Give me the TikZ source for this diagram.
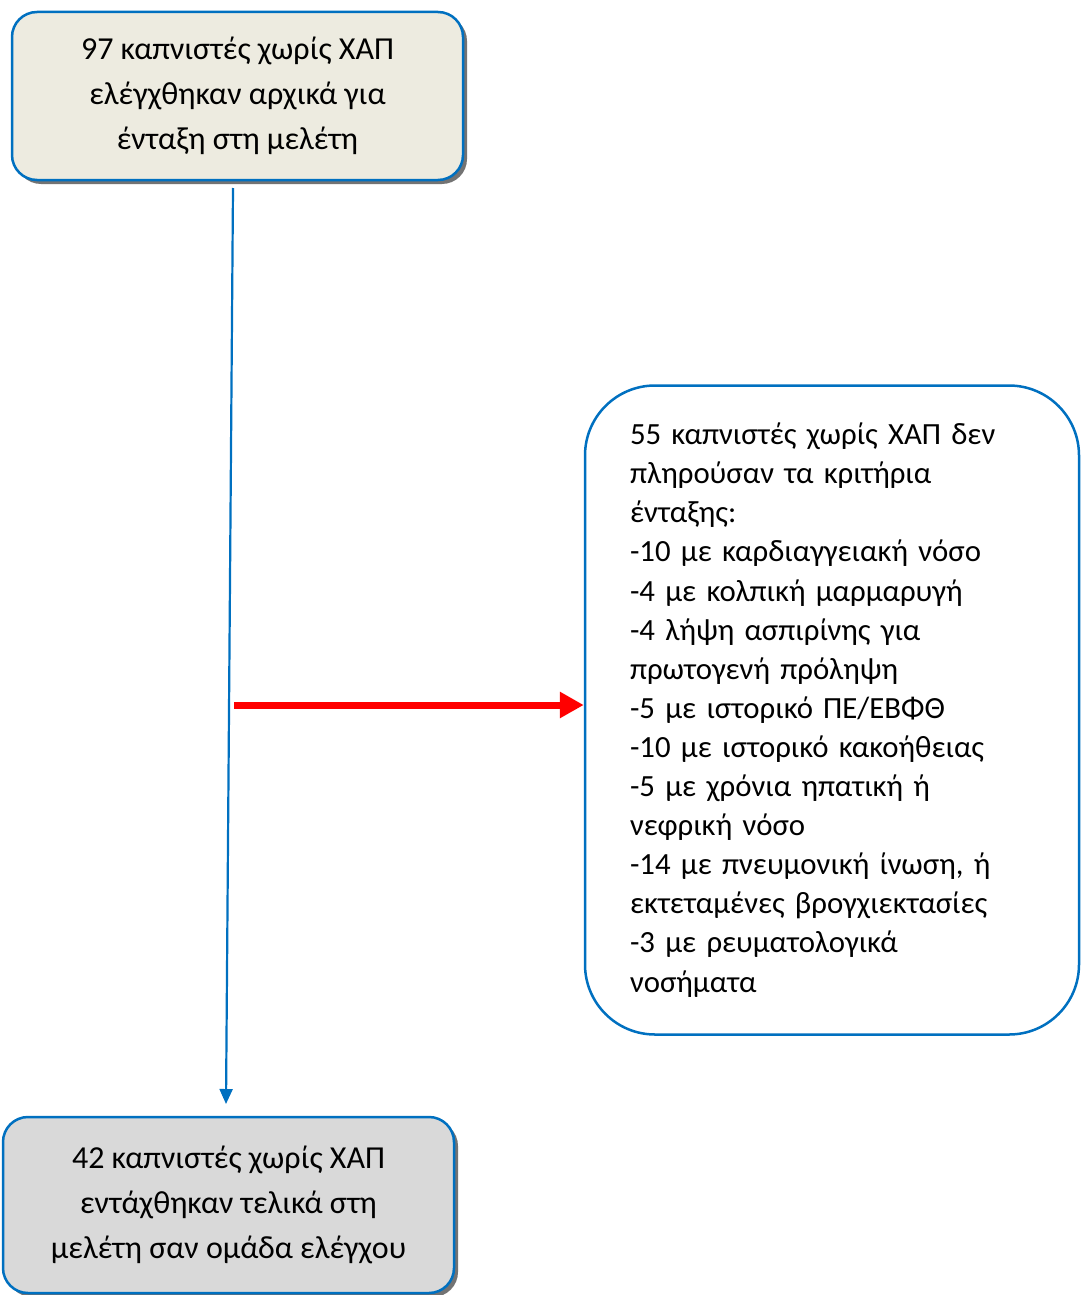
\documentclass[tikz,border=0pt]{standalone}
\usepackage{fontspec}
\setmainfont{Carlito}
\usetikzlibrary{arrows.meta}
\definecolor{bblue}{RGB}{0,112,192}
\definecolor{topfill}{RGB}{237,235,224}
\definecolor{botfill}{RGB}{217,217,217}
\begin{document}
\begin{tikzpicture}[x=1pt,y=-1pt,
  box/.style={draw=bblue, line width=2.5pt, rounded corners=25pt, align=center, inner sep=0pt},
  shadowed/.style={preaction={fill=black!55, draw=none, transform canvas={shift={(4pt,-4pt)}}}},
  bigtext/.style={font=\fontsize{32}{45}\selectfont}]
\useasboundingbox (0,0) rectangle (1080,1295);
\node[box, shadowed, fill=topfill, minimum width=451pt, minimum height=168pt, bigtext] (top) at (237.5,96)
  {97 καπνιστές χωρίς ΧΑΠ\\ελέγχθηκαν αρχικά για\\ένταξη στη μελέτη};
\node[box, shadowed, fill=botfill, minimum width=451pt, minimum height=176pt, bigtext] (bot) at (228.5,1205)
  {42 καπνιστές χωρίς ΧΑΠ\\εντάχθηκαν τελικά στη\\μελέτη σαν ομάδα ελέγχου};
\node[box, fill=white, rounded corners=70pt, minimum width=494pt, minimum height=649pt, text width=404pt, align=left,
  font=\fontsize{30.8}{39.1}\selectfont] (excl) at (832,710)
  {55 καπνιστές χωρίς ΧΑΠ δεν\\πληρούσαν τα κριτήρια\\ένταξης:\\-10 με καρδιαγγειακή νόσο\\-4 με κολπική μαρμαρυγή\\-4 λήψη ασπιρίνης για\\πρωτογενή πρόληψη\\-5 με ιστορικό ΠΕ/ΕΒΦΘ\\-10 με ιστορικό κακοήθειας\\-5 με χρόνια ηπατική ή\\νεφρική νόσο\\-14 με πνευμονική ίνωση, ή\\εκτεταμένες βρογχιεκτασίες\\-3 με ρευματολογικά\\νοσήματα};
\coordinate (s) at (233,188);
\coordinate (e) at (226,1104);
\draw[bblue, line width=2.2pt, -{Triangle[length=15pt,width=13pt]}] (s) -- (e);
\coordinate (r) at (234,705);
\draw[red, line width=7pt, -{Triangle[length=24pt,width=25pt]}] (r) -- (r -| excl.west);
\end{tikzpicture}
\end{document}
